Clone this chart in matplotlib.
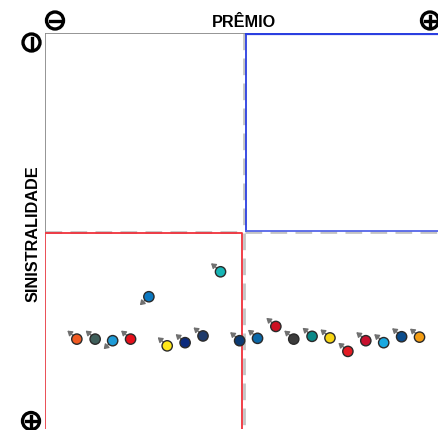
import numpy as np
import matplotlib
matplotlib.use("Agg")
import matplotlib.pyplot as plt
from matplotlib.patches import Circle
from matplotlib.lines import Line2D
from matplotlib.transforms import offset_copy

# Posição de cada empresa: prêmio (0 = menor, 100 = maior) e sinistralidade (0 = menor, 100 = maior)
premio = [8.0, 12.6, 17.0, 21.5, 26.1, 30.7, 35.2, 39.7, 44.1, 48.9,
          53.4, 58.0, 62.5, 67.1, 71.6, 76.1, 80.6, 85.1, 89.6, 94.1]
sinistralidade = [77.3, 77.3, 77.7, 77.3, 66.6, 79.0, 78.2, 76.5, 60.3, 77.7,
                  77.1, 74.1, 77.3, 76.6, 77.0, 80.4, 77.7, 78.2, 76.7, 76.8]
cores = ["#f05a22", "#3f5f5b", "#1e9bd7", "#e60f1a", "#0b78c1",
         "#ffe81a", "#0b2a7c", "#1f3b6b", "#17b5b5", "#0b3a72",
         "#0a68a8", "#cc1122", "#3c3c3c", "#0a8888", "#f7d514",
         "#e31b23", "#c8102e", "#1aa9e1", "#0b4c8c", "#f39c12"]
# direção da tendência (seta): "sobe" = para cima/esquerda, "desce" = para baixo/esquerda
tendencia = ["sobe", "sobe", "desce", "sobe", "desce", "sobe", "sobe", "sobe", "sobe", "sobe",
             "sobe", "sobe", "sobe", "sobe", "sobe", "sobe", "sobe", "sobe", "sobe", "sobe"]

W, H = 438, 431
fig = plt.figure(figsize=(W / 100, H / 100), dpi=100)
ax = fig.add_axes([45 / W, 1 / H, 398 / W, 396 / H])
ax.set_xlim(0, 100)
ax.set_ylim(100, 0)
ax.axis("off")

# linhas do meio (tracejadas)
ax.plot([50, 50], [0, 100], color="#c4c4c4", lw=2, dashes=(6, 3), zorder=1)
ax.plot([0, 100], [50.3, 50.3], color="#c4c4c4", lw=2, dashes=(6, 3), zorder=1)

# bordas dos quadrantes
ax.plot([0, 0, 50], [50, 0, 0], color="#8c8c8c", lw=1.3, zorder=2)
ax.plot([50.4, 50.4], [0, 50], color="#2b3fe0", lw=1.3, zorder=2)
ax.plot([50.4, 100], [0.2, 0.2], color="#2b3fe0", lw=1.6, zorder=2)
ax.plot([50.4, 100], [50, 50], color="#5566e8", lw=1.3, zorder=2)
ax.plot([0, 49.6, 49.6], [50.5, 50.5, 100], color="#f0303a", lw=1.3, zorder=2)
ax.plot([0, 0], [50.5, 100], color="#e84048", lw=1.3, zorder=2)

# setas de tendência
for x, y, t in zip(premio, sinistralidade, tendencia):
    if t == "sobe":
        cauda, ponta = (-3.5, 3.5), (-9.5, 8.5)
    else:
        cauda, ponta = (-3.5, -3.0), (-9.0, -8.5)
    tr_c = offset_copy(ax.transData, fig, x=cauda[0], y=cauda[1], units="dots")
    tr_p = offset_copy(ax.transData, fig, x=ponta[0], y=ponta[1], units="dots")
    ax.annotate("", xy=(x, y), xycoords=tr_p, xytext=(x, y), textcoords=tr_c,
                arrowprops=dict(arrowstyle="-|>,head_length=0.45,head_width=0.3",
                                mutation_scale=6, color="#707070", lw=1.0,
                                shrinkA=0, shrinkB=0),
                zorder=3)

ax.scatter(premio, sinistralidade, s=55, c=cores, edgecolors="#2a2a2a",
           linewidths=1, zorder=4)

fonte = ["Liberation Sans", "DejaVu Sans"]
fig.text(244 / W, 1 - 22.5 / H, "PRÊMIO", ha="center", va="center",
         fontsize=11.7, fontweight="bold", family=fonte)
fig.text(33.5 / W, 1 - 234 / H, "SINISTRALIDADE", ha="center", va="center",
         rotation=90, fontsize=11.7, fontweight="bold", family=fonte)


# ícones de mais/menos (coordenadas em pixels da imagem)
def icone(cx, cy, sinal, vertical=False):
    r = 8.5
    fx = lambda px: px / W
    fy = lambda py: 1 - py / H
    circ = Circle((cx / 100, (H - cy) / 100), radius=r / 100,
                  transform=fig.dpi_scale_trans, fill=False, lw=2.4, ec="black")
    fig.add_artist(circ)
    d = 5
    if vertical:
        fig.add_artist(Line2D([fx(cx), fx(cx)], [fy(cy - d), fy(cy + d)], lw=2.4, color="black"))
    else:
        fig.add_artist(Line2D([fx(cx - d), fx(cx + d)], [fy(cy), fy(cy)], lw=2.4, color="black"))
    if sinal == "+":
        fig.add_artist(Line2D([fx(cx), fx(cx)], [fy(cy - d), fy(cy + d)], lw=2.4, color="black"))


icone(55, 21.5, "-")
icone(430, 21.5, "+")
icone(31.5, 43.5, "-", vertical=True)
icone(31, 422, "+")

fig.savefig("out.png", dpi=100)
